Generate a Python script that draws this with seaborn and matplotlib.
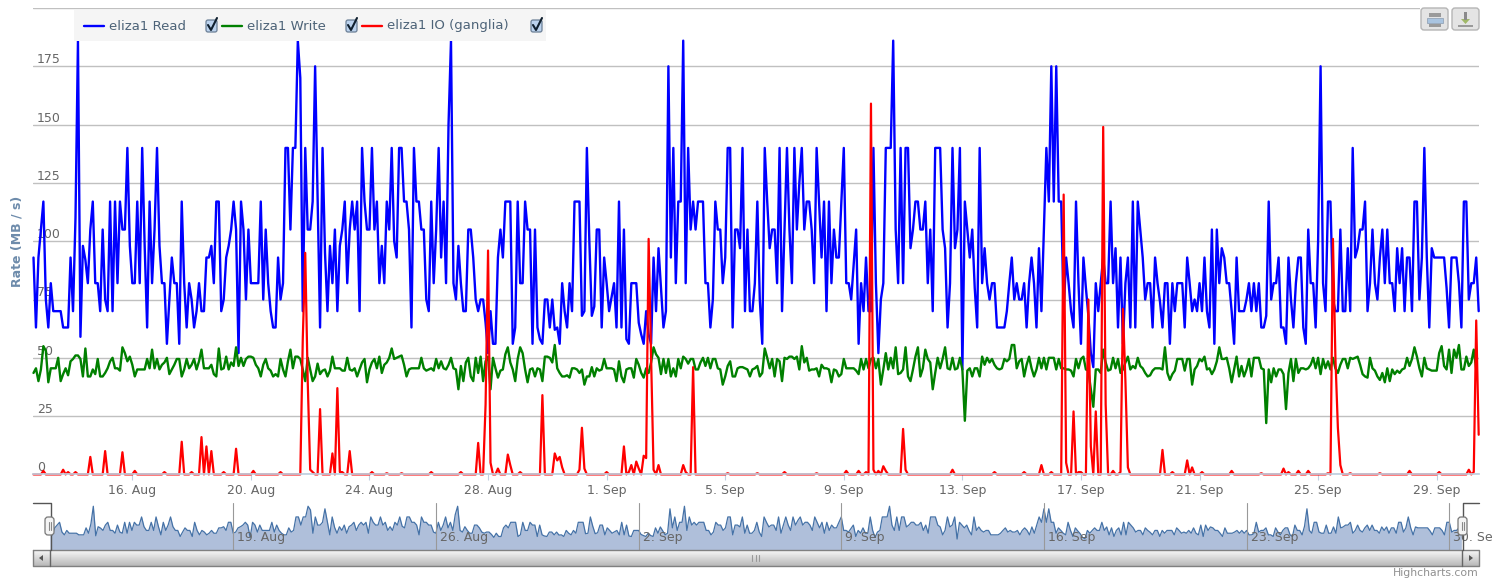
import numpy as np
import pandas as pd
import matplotlib
matplotlib.use("Agg")
import matplotlib.pyplot as plt
from matplotlib.patches import FancyBboxPatch, Rectangle, Polygon
import seaborn as sns

# values, 2 hour samples
read_rate = [
    93,63,93,105,117,75,63,82,70,70,70,70,63,63,63,93,70,110,186,59,98,92,82,105,117,
    82,82,70,105,75,70,117,70,117,82,117,105,105,140,98,82,82,117,82,140,98,63,117,82,105,
    140,98,82,82,56,75,93,82,82,56,117,82,63,82,75,63,70,82,70,70,93,93,98,82,117,
    117,70,75,93,98,105,117,105,52,117,105,75,105,82,82,82,82,117,75,105,82,70,63,63,93,
    75,82,140,140,105,140,140,186,170,70,140,105,105,117,175,120,63,140,95,70,98,82,105,70,98,
    105,117,82,105,117,105,117,70,140,117,105,105,140,105,117,82,98,82,117,105,140,100,93,140,140,
    117,117,105,63,140,117,117,105,105,75,70,117,82,105,140,93,117,82,150,186,82,75,98,82,70,
    70,105,105,93,75,70,75,75,65,52,70,56,56,93,105,93,117,117,117,56,63,117,
    82,82,117,105,105,56,105,63,58,56,75,75,63,75,62,63,56,82,70,63,82,70,117,117,117,
    68,70,140,100,68,72,105,105,63,93,82,70,76,82,63,117,63,105,58,56,82,82,82,65,60,
    56,70,60,56,93,70,97,80,63,70,175,93,140,82,117,117,186,82,140,105,117,105,117,117,117,
    82,82,63,75,117,105,105,82,93,140,140,63,105,105,97,140,70,105,70,70,82,117,75,56,140,
    117,97,105,105,82,140,70,105,140,105,82,140,105,125,140,105,117,117,105,82,140,117,93,117,70,
    117,82,105,93,93,117,140,82,82,75,90,105,56,82,70,93,70,70,140,82,52,75,82,140,140,
    140,186,105,82,140,82,140,140,97,105,117,117,105,105,117,82,105,70,140,140,140,105,97,63,82,
    140,97,105,140,45,117,105,93,105,80,63,140,82,97,82,75,82,82,63,63,
    63,63,70,82,93,75,82,75,75,82,63,82,93,82,63,97,70,105,140,117,175,117,175,117,117,
    70,93,82,70,63,117,82,56,93,80,68,52,46,82,70,82,93,82,82,117,82,97,63,93,56,
    82,93,63,117,63,117,105,93,75,82,82,63,93,82,74,63,82,82,56,82,70,82,82,82,63,
    93,82,70,75,70,82,70,93,70,63,105,56,105,82,97,93,82,82,70,56,93,70,70,70,75,
    82,70,82,70,82,63,63,68,117,75,82,82,93,63,63,56,93,75,63,82,93,93,63,56,105,
    82,82,63,100,175,82,70,117,117,75,70,70,105,70,70,97,70,140,93,97,105,105,117,70,82,
    105,82,75,93,105,82,105,82,82,70,97,82,97,70,93,93,70,117,117,75,93,140,93,63,97,
    93,93,93,93,93,80,63,93,93,93,82,63,117,117,75,82,82,93,70,
]
write_rate = [
    43.5,45.5,40,45,55,53,39.5,45.5,45.5,45.5,50,40,43,45.5,42.5,48.5,49.5,51,51,49.5,
    42,54,42,42,45,43,49.5,42,42,43.5,45.5,48.5,50,45.5,45.5,44.5,54.5,52,48.5,50.5,
    47,42,45,45,45,45,49.5,45.5,53.5,45.5,49.5,45,47,48,50,43,45,47,49.5,49.5,
    42,45,49.5,45.5,47,49.5,45,48.5,53.5,45.5,45.5,45.5,47,43,42,54,45,45.5,50.5,45,
    48,46.5,54.5,46.5,50,46.5,49.5,50.5,50.5,50,47,45.5,42,47,49.5,45.5,44.5,42,43,42,
    49.5,45,42,48.5,53.5,45.5,50.5,50.5,49.5,45,40,50,45,40,42,47.5,43,44.5,45,42,
    44.5,50.5,45.5,45.5,45.5,44.5,44.5,50,45,44.5,45.5,42,45,48,49.5,39.5,45,48,49.5,45.5,
    50.5,43.5,47,48,50,54,49.5,50,50.5,51,47,42,45,45.5,45.5,45.5,45.5,50,45.5,44.5,
    45,45.5,44.5,49.5,45.5,48.5,45.5,45,47,50,45.5,45,36.5,46.5,40,48,50,42,40,50,
    43.5,50.5,40,48.5,50.5,36.5,50,45.5,41.5,44.5,45,51.5,54.5,48,45,
    40,49.5,54.5,52,45,39.5,45,45.5,42,45.5,45,40,50.5,50.5,50,48,55.5,45.5,43.5,42,
    42,42.5,41.5,45.5,45.5,45,43.5,45,38.5,42,42,46,42,45.5,44.5,45,49.5,45.5,45.5,45.5,
    45,40,48.5,42,39.5,45,45.5,45.5,41.5,49.5,47,43.5,41.5,45.5,43.5,48,54.5,51.5,50,43,
    49.5,43.5,49.5,42,45.5,42,49.5,45.5,50.5,49.5,47.5,49.5,49.5,45,45,48,50,46.5,50,45.5,
    49.5,49.5,45.5,45,38.5,42,46.5,48.5,42,42,45.5,46,46,45.5,45,42,45,45.5,46.5,42,
    43.5,54,50,45.5,49.5,42,49.5,48.5,40,50,49.5,50.5,50.5,49.5,50.5,45,55,48,50,44.5,
    45,45,45.5,42,47,45.5,45.5,45,39.5,45,44.5,42,43,49.5,45.5,45.5,45.5,45.5,44.5,43,
    49.5,45,49.5,45.5,49.5,50,45.5,49.5,38.5,45,52,45,50,45.5,54.5,43,43.5,45,54.5,42,
    40,45,50.5,54.5,42,45.5,53.5,49.5,48,36.5,43.5,50,45.5,49.5,54.5,45.5,45,50,45,45.5,
    50,45,23,44.5,45.5,42,45.5,45.5,42,50.5,47,50,48,49.5,47,
    45.5,45,45.5,49.5,48.5,49.5,55.5,55.5,45.5,48.5,49.5,42,47,50.5,45.5,42,45,50,45.5,50,
    45,50,50,50,45,49.5,45.5,45.5,45,45,44.5,42,49.5,45.5,49.5,50.5,45,44.5,36.5,29,
    45,45,43.5,53.5,48,44.5,45,50,45.5,49.5,43.5,45,48,50.5,45,46.5,45.5,50,46.5,45.5,
    43.5,42,42.5,44.5,45.5,45.5,45.5,45,54.5,43.5,40.5,43,44.5,49.5,49.5,49.5,44.5,49.5,49.5,38.5,
    45,46.5,49.5,48.5,50.5,45,45.5,43,45,48.5,54.5,49.5,49.5,50,45.5,39.5,45,50.5,42,46.5,
    42,45,49.5,42,50,50,50,45.5,45,22,45,39.5,45.5,42,45,45,43,28,43.5,49.5,
    40,49.5,43.5,45.5,45.5,45,45.5,47,50,45.5,50,43,49.5,45.5,48.5,45,50,45.5,43.5,47,
    49.5,49.5,45.5,50,49.5,50,50.5,47,43,42,41.5,50,45.5,44.5,42,40.5,43.5,39.5,45.5,40,
    45,43,44.5,43.5,45,45.5,50,46.5,49.5,54.5,50.5,45.5,42,50,45.5,45,44.5,44.5,44.5,52,
    55,46.5,45,53.5,43.5,53.5,50,55.5,45,45,50.5,46.5,48,53.5,45,
]
# the IO line sits at zero apart from these samples
io_peak_sample = [
    4,12,14,17,23,29,36,41,53,60,64,68,70,72,77,82,89,100,109,110,111,112,113,116,121,123,124,125,
    128,137,143,149,161,173,180,183,184,185,188,192,193,197,206,211,212,213,214,221,222,223,232,
    239,241,242,244,245,247,248,249,250,251,253,263,264,267,281,293,304,317,329,334,337,339,340,
    342,344,345,352,353,372,389,401,408,412,417,418,421,423,424,427,428,430,433,434,437,440,441,
    442,443,457,461,467,469,473,485,497,506,508,512,516,524,526,527,528,529,533,545,557,569,581,
    583,584,585,
]
io_peak_rate = [
    1.5,2,1,1,7.5,10,9.5,1.5,1,14,1,16,12,10,1,11,1.5,1,58,95,40,2,1,28,9,37,1,1,
    10,1,0.5,0.5,1,1,13.5,30,96,5,2.5,8.5,4,1,34,9,6,7.5,3,2,20,2.5,1,
    12,1,4,5.5,2.5,8,7,101,50,2,4,4,1,46,0.5,0.5,1,0.5,1.5,1.5,1,159,2,
    1.5,3.5,1.5,19.5,2,2,1,1,4,1,120,5,27,1,1,75,12,27,149,30,1.5,1,71,
    40,3,10.5,1,6,3,1,1.5,0.5,2.5,1,1.5,1.5,0.5,101,50,20,4,0.5,0.5,1.5,1,2,
    1,66,17,
]
series_start = "2011-08-12 16:00"
main_ticks = ["2011-08-16","2011-08-20","2011-08-24","2011-08-28","2011-09-01","2011-09-05",
              "2011-09-09","2011-09-13","2011-09-17","2011-09-21","2011-09-25","2011-09-29"]
main_tick_labels = ["16. Aug","20. Aug","24. Aug","28. Aug","1. Sep","5. Sep",
                    "9. Sep","13. Sep","17. Sep","21. Sep","25. Sep","29. Sep"]
nav_ticks = ["2011-08-19","2011-08-26","2011-09-02","2011-09-09","2011-09-16","2011-09-23","2011-09-30"]
nav_tick_labels = ["19. Aug","26. Aug","2. Sep","9. Sep","16. Sep","23. Sep","30. Sep"]
rate_ticks = [0,25,50,75,100,125,150,175,200]
rate_labels = ["0","25","50","75","100","125","150","175",""]

W, H = 1493, 580
TXT = "#666666"
sns.set_theme(style="white")
plt.rcParams["font.family"] = ["DejaVu Sans"]

read_time = pd.date_range(series_start, periods=len(read_rate), freq="2h")
write_time = pd.date_range(series_start, periods=len(write_rate), freq="2h")
io_rate = np.zeros(len(read_rate))
io_rate[io_peak_sample] = io_peak_rate


def px_axes(x0, y0, x1, y1):
    return fig.add_axes([x0 / W, 1 - y1 / H, (x1 - x0) / W, (y1 - y0) / H])


fig = plt.figure(figsize=(W / 100, H / 100), dpi=100)

# main chart
ax = px_axes(33, 8, 1479, 474.4)
ax.set_axisbelow(True)
sns.lineplot(x=read_time, y=read_rate, color="#0000ff", lw=1.7, estimator=None, ax=ax)
sns.lineplot(x=write_time, y=write_rate, color="#008000", lw=1.7, estimator=None, ax=ax)
sns.lineplot(x=read_time, y=io_rate, color="#ff0000", lw=1.6, estimator=None, ax=ax)
for line in ax.lines:
    line.set_clip_on(False)
ax.set_xlim(pd.Timestamp("2011-08-12 15:36"), pd.Timestamp("2011-09-30 10:15"))
ax.set_ylim(0, 200)
ax.set_yticks(rate_ticks, rate_labels)
ax.set_xticks(pd.to_datetime(main_ticks), main_tick_labels)
ax.grid(axis="y", color="#c0c0c0", lw=1.0)
ax.tick_params(axis="y", length=0, pad=-3, labelsize=9, labelcolor=TXT)
ax.tick_params(axis="x", length=4, width=0.8, color="#c0d0e0", pad=3, labelsize=9, labelcolor=TXT, bottom=True)
for lab in ax.get_yticklabels():
    lab.set_ha("left")
    lab.set_va("bottom")
sns.despine(ax=ax, left=True, top=True, right=True)
ax.spines["bottom"].set_color("#c0d0e0")
ax.set_xlabel("")
ax.set_ylabel("")

# navigator, same read series on its own scale
nav = px_axes(33, 503, 1479, 549.5)
nav.patch.set_alpha(0)
nav.fill_between(read_time, read_rate, 0, color="#afbfda", lw=0)
sns.lineplot(x=read_time, y=read_rate, color="#4572a7", lw=0.9, estimator=None, ax=nav)
nav.set_xlim(pd.Timestamp("2011-08-12 02:00"), pd.Timestamp("2011-10-01 00:37"))
nav.set_ylim(0, 200)
nav.set_yticks([])
nav.set_xticks(pd.to_datetime(nav_ticks), [""] * len(nav_ticks))
nav.tick_params(axis="x", length=0)
nav.grid(axis="x", color="#999999", lw=0.8)
nav.set_axisbelow(False)
nav.set_xlabel("")
nav.set_ylabel("")
for s in nav.spines.values():
    s.set_visible(False)
for d, lab in zip(pd.to_datetime(nav_ticks), nav_tick_labels):
    t = nav.annotate(lab, (d, 0), xytext=(4, 5), textcoords="offset pixels", fontsize=9, color=TXT,
                     ha="left", va="bottom", annotation_clip=False, zorder=5)
    t.set_clip_on(True)

# chrome in pixel coordinates
top = fig.add_axes([0, 0, 1, 1], zorder=10)
top.set_xlim(0, W)
top.set_ylim(H, 0)
top.axis("off")
top.patch.set_alpha(0)

top.add_patch(Rectangle((74, 10), 472, 31, fc="#f5f5f5", ec="none"))
legend_items = [(84, "#0000ff", "eliza1 Read", 205), (222, "#008000", "eliza1 Write", 345),
                (362, "#ff0000", "eliza1 IO (ganglia)", 530)]
for x, col, name, box in legend_items:
    top.plot([x, x + 20], [26, 26], color=col, lw=1.7)
    top.text(x + 25, 26, name, fontsize=9.5, color="#4d6378", va="center", ha="left")
    top.add_patch(FancyBboxPatch((box + 1, 20), 11, 12, boxstyle="round,pad=0,rounding_size=2",
                                 fc="#bcd3ee", ec="#6b7f96", lw=0.9))
    top.plot([box + 3, box + 6, box + 12], [25, 30, 18], color="#10202f", lw=1.5)

top.text(17, 241, "Rate (MB / s)", rotation=90, fontsize=9, fontweight="bold", color="#6d8bab",
         ha="center", va="center")

# export buttons, the top grid line stops short of them
top.add_patch(Rectangle((1420, 5), 62, 6, fc="white", ec="none"))
for x0 in (1421, 1452):
    top.add_patch(FancyBboxPatch((x0, 8), 27, 22, boxstyle="round,pad=0,rounding_size=3",
                                 fc="#e4e4e4", ec="#b5b5b5", lw=1))
top.add_patch(Rectangle((1429, 13), 12, 4, fc="#9a9a9a", ec="none"))
top.add_patch(Rectangle((1427, 18), 16, 5, fc="#a9c4e0", ec="#8a9bb0", lw=0.5))
top.add_patch(Rectangle((1429, 24), 12, 3, fc="#9a9a9a", ec="none"))
top.add_patch(Polygon([(1461, 19), (1470, 19), (1465.5, 24)], fc="#a0b868", ec="none"))
top.add_patch(Rectangle((1464, 12), 3, 8, fc="#8a8a8a", ec="none"))
top.add_patch(Rectangle((1458, 25), 15, 2, fc="#9a9a9a", ec="none"))

# scrollbar under the navigator
shade = np.linspace(0.97, 0.72, 40).reshape(-1, 1)
top.imshow(shade, extent=(33, 1479, 566, 550), cmap="gray", vmin=0, vmax=1, aspect="auto", zorder=1)
top.set_xlim(0, W)
top.set_ylim(H, 0)
top.plot([33, 1479, 1479, 33, 33], [550, 550, 566, 566, 550], color="#808080", lw=1, zorder=2)
top.plot([50, 50], [550, 566], color="#666666", lw=1, zorder=2)
top.plot([1462, 1462], [550, 566], color="#666666", lw=1, zorder=2)
top.add_patch(Polygon([(43, 555), (43, 561), (39, 558)], fc="#555555", ec="none", zorder=3))
top.add_patch(Polygon([(1469, 555), (1469, 561), (1473, 558)], fc="#555555", ec="none", zorder=3))
for gx in (752, 755.5, 759):
    top.plot([gx, gx], [555, 561], color="#999999", lw=0.8, zorder=3)

# navigator handles and outline
top.plot([33, 50.5, 50.5], [503, 503, 550], color="#555555", lw=1, zorder=4)
top.plot([1479, 1462.5, 1462.5], [503, 503, 550], color="#555555", lw=1, zorder=4)
for x0 in (45, 1458):
    top.add_patch(FancyBboxPatch((x0, 517), 9, 18, boxstyle="round,pad=0,rounding_size=3",
                                 fc="#f4f4f4", ec="#777777", lw=0.9, zorder=5))
    top.plot([x0 + 3.5, x0 + 3.5], [522, 530], color="#888888", lw=0.8, zorder=6)
    top.plot([x0 + 5.5, x0 + 5.5], [522, 530], color="#888888", lw=0.8, zorder=6)

top.text(1479, 573.5, "Highcharts.com", fontsize=7.8, color="#909090", ha="right", va="center")

fig.savefig("out.png", dpi=100)
